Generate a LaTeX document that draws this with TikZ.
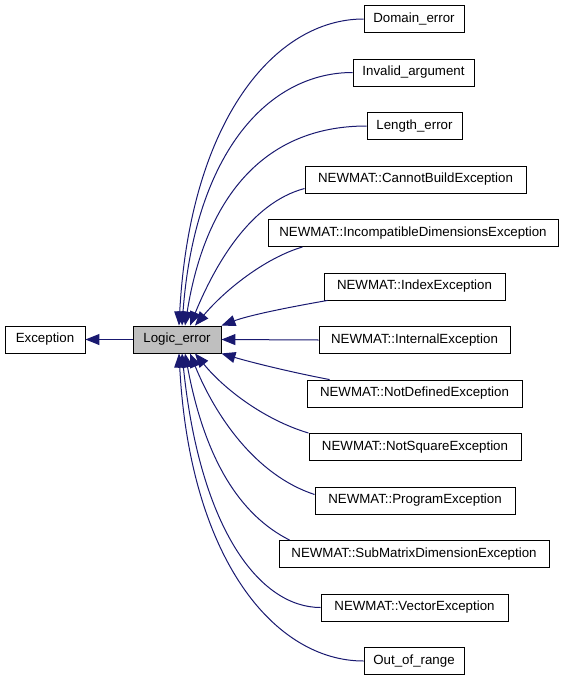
\documentclass[tikz,border=0pt]{standalone}
\usepackage{fontspec}
\setmainfont{Liberation Sans}
\usetikzlibrary{arrows.meta}
\definecolor{navyline}{HTML}{191970}
\begin{document}
\begin{tikzpicture}[x=1pt,y=-1pt,
  cls/.style={draw=black, line width=0.9pt, minimum height=27pt, inner sep=0pt,
              font=\fontsize{13.3}{16}\selectfont, fill=white},
  hl/.style={cls, fill=gray!50},
  inh/.style={draw=navyline, line width=1pt, -{Triangle[length=14pt,width=11pt]}}]
\useasboundingbox (0,0) rectangle (565,680);

\node[cls, minimum width=80pt] (exc) at (45,339.5) {Exception};
\node[hl, minimum width=88pt] (le) at (177,339.5) {Logic\_error};

\node[cls, minimum width=100pt] (dom) at (414,19) {Domain\_error};
\node[cls, minimum width=121pt] (inv) at (413.5,72.5) {Invalid\_argument};
\node[cls, minimum width=95pt]  (len) at (414.5,126) {Length\_error};
\node[cls, minimum width=221pt] (can) at (415.5,179.5) {NEWMAT::CannotBuildException};
\node[cls, minimum width=290pt] (inc) at (413,233) {NEWMAT::IncompatibleDimensionsException};
\node[cls, minimum width=181pt] (idx) at (414.5,286.5) {NEWMAT::IndexException};
\node[cls, minimum width=191pt] (int) at (414.5,340) {NEWMAT::InternalException};
\node[cls, minimum width=215pt] (nd)  at (414.5,393.5) {NEWMAT::NotDefinedException};
\node[cls, minimum width=212pt] (ns)  at (415,447) {NEWMAT::NotSquareException};
\node[cls, minimum width=200pt] (prg) at (415,500.5) {NEWMAT::ProgramException};
\node[cls, minimum width=270pt] (sub) at (414,554) {NEWMAT::SubMatrixDimensionException};
\node[cls, minimum width=187pt] (vec) at (414.5,607.5) {NEWMAT::VectorException};
\node[cls, minimum width=100pt] (oor) at (414,661) {Out\_of\_range};

\draw[inh] (le.west) -- (exc.east);

\draw[inh] (dom.west) .. controls (275,19) and (190,120) .. ([xshift=2pt]le.north);
\draw[inh] (inv.west) .. controls (270,72.5) and (195,150) .. ([xshift=5pt]le.north);
\draw[inh] (len.west) .. controls (262,126) and (205,200) .. ([xshift=8pt]le.north);
\draw[inh] ([yshift=-9pt]can.west) .. controls (250,203) and (215,265) .. ([xshift=13pt]le.north);
\draw[inh] ([xshift=35pt]inc.south west) .. controls (265,258) and (225,290) .. ([xshift=18pt]le.north);
\draw[inh] ([xshift=4pt]idx.south west) .. controls (290,307) and (250,315) .. (le.north east);
\draw[inh] (int.west) -- (le.east);
\draw[inh] ([xshift=23pt]nd.north west) .. controls (290,372) and (250,362) .. (le.south east);
\draw[inh] (ns.north west) .. controls (265,420) and (225,390) .. ([xshift=18pt]le.south);
\draw[inh] ([yshift=6pt]prg.west) .. controls (255,475) and (215,415) .. ([xshift=13pt]le.south);
\draw[inh] ([xshift=11pt]sub.north west) .. controls (240,515) and (205,460) .. ([xshift=8pt]le.south);
\draw[inh] (vec.west) .. controls (260,607.5) and (200,530) .. ([xshift=5pt]le.south);
\draw[inh] (oor.west) .. controls (275,661) and (190,560) .. ([xshift=2pt]le.south);
\end{tikzpicture}
\end{document}
